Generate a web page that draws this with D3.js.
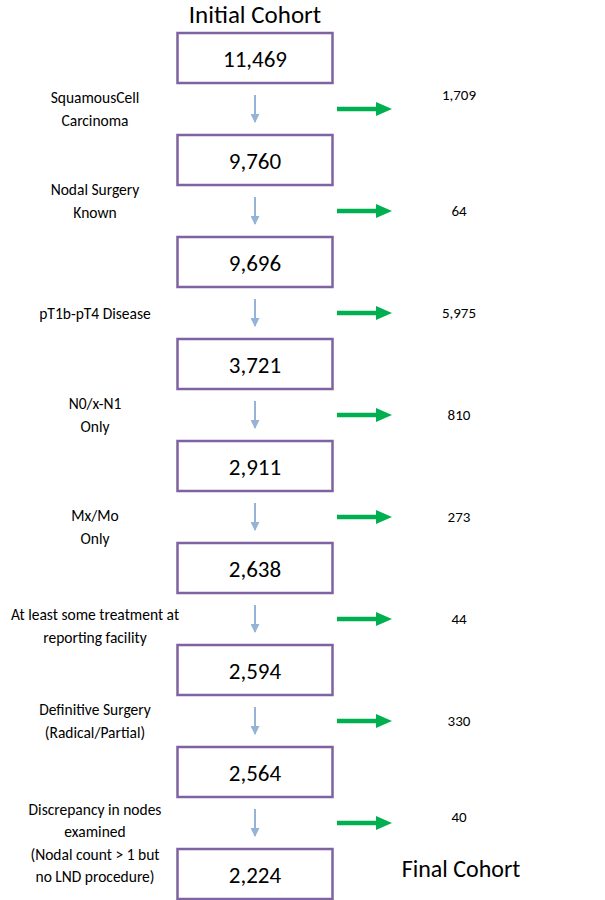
<!DOCTYPE html>
<html><head><meta charset="utf-8">
<script src="https://cdn.jsdelivr.net/npm/d3@7"></script>
<style>body{margin:0;background:#fff;} svg{display:block;}</style>
</head><body>
<div id="chart"></div>
<script>
// ---- data ----
const cohortCounts = [11469, 9760, 9696, 3721, 2911, 2638, 2594, 2564, 2224];
const excludedCounts = [1709, 64, 5975, 810, 273, 44, 330, 40];
const criteriaLabels = [
  ["SquamousCell", "Carcinoma"],
  ["Nodal Surgery", "Known"],
  ["pT1b-pT4 Disease"],
  ["N0/x-N1", "Only"],
  ["Mx/Mo", "Only"],
  ["At least some treatment at", "reporting facility"],
  ["Definitive Surgery", "(Radical/Partial)"],
  ["Discrepancy in nodes", "examined", "(Nodal count > 1 but", "no LND procedure)"]
];
const startTitle = "Initial Cohort";
const endTitle = "Final Cohort";

// ---- layout ----
const W = 605, H = 900;
const font = "Carlito, Lato, sans-serif";
const purple = "#7f62a1", blue = "#95b3d7", green = "#00b050";
const boxW = 155, boxH = 50;

const svg = d3.select("#chart").append("svg").attr("width", W).attr("height", H);

const y = d3.scalePoint().domain(d3.range(cohortCounts.length)).range([58, 874]);
const xCol = d3.scalePoint().domain(["label", "box", "out", "num"]).range([95, 459]);
const boxX = 255;
const fmt = d3.format(",");

const defs = svg.append("defs");
defs.append("marker").attr("id", "bh").attr("viewBox", "0 0 10 10").attr("refX", 9).attr("refY", 5)
  .attr("markerWidth", 4.5).attr("markerHeight", 4.5).attr("orient", "auto").attr("markerUnits", "strokeWidth")
  .append("path").attr("d", "M0,0 L10,5 L0,10 Z").attr("fill", blue);

// titles
svg.append("text").attr("x", boxX).attr("y", 23).attr("text-anchor", "middle")
  .attr("font-family", font).attr("font-size", 25).attr("fill", "#000").text(startTitle);
svg.append("text").attr("x", 461).attr("y", y(cohortCounts.length - 1) - 6).attr("text-anchor", "middle")
  .attr("dominant-baseline", "central")
  .attr("font-family", font).attr("font-size", 24).attr("fill", "#000").text(endTitle);

// boxes
const boxes = svg.selectAll("g.box").data(cohortCounts).join("g").attr("class", "box")
  .attr("transform", (d, i) => `translate(${boxX},${y(i)})`);
boxes.append("rect").attr("x", -boxW / 2).attr("y", -boxH / 2).attr("width", boxW).attr("height", boxH)
  .attr("fill", "#fff").attr("stroke", purple).attr("stroke-width", 2.5);
boxes.append("text").attr("text-anchor", "middle").attr("dominant-baseline", "central").attr("y", 1)
  .attr("font-family", font).attr("font-size", 23).attr("fill", "#000").text(d => fmt(d));

// steps
const steps = svg.selectAll("g.step").data(excludedCounts).join("g").attr("class", "step")
  .attr("transform", (d, i) => `translate(0,${(y(i) + y(i + 1)) / 2})`);

steps.append("line").attr("x1", boxX).attr("x2", boxX).attr("y1", -14).attr("y2", 13)
  .attr("stroke", blue).attr("stroke-width", 2).attr("marker-end", "url(#bh)");

steps.append("line").attr("x1", 337).attr("x2", 378).attr("y1", 0).attr("y2", 0)
  .attr("stroke", green).attr("stroke-width", 4.5);
steps.append("path").attr("d", "M376,-7 L392,0 L376,7 Z").attr("fill", green);

steps.append("text").attr("x", xCol("num")).attr("y", (d, i) => i === 0 ? -14 : (i === 7 ? -6 : 0))
  .attr("text-anchor", "middle").attr("dominant-baseline", "central")
  .attr("font-family", font).attr("font-size", 15).attr("fill", "#000").text(d => fmt(d));

steps.each(function(d, i) {
  const lines = criteriaLabels[i];
  const lh = 22.5;
  const t = d3.select(this).append("text").attr("text-anchor", "middle")
    .attr("font-family", font).attr("font-size", 15.5).attr("fill", "#000");
  const off = -((lines.length - 1) * lh) / 2 + (lines.length === 4 ? 20 : 0) + (i === 4 ? 10 : 0) + (i === 5 ? 7 : 0) + (i === 1 ? -10 : 0);
  lines.forEach((ln, k) => {
    t.append("tspan").attr("x", xCol("label")).attr("y", off + k * lh).attr("dominant-baseline", "central").text(ln);
  });
});
</script>
</body></html>
